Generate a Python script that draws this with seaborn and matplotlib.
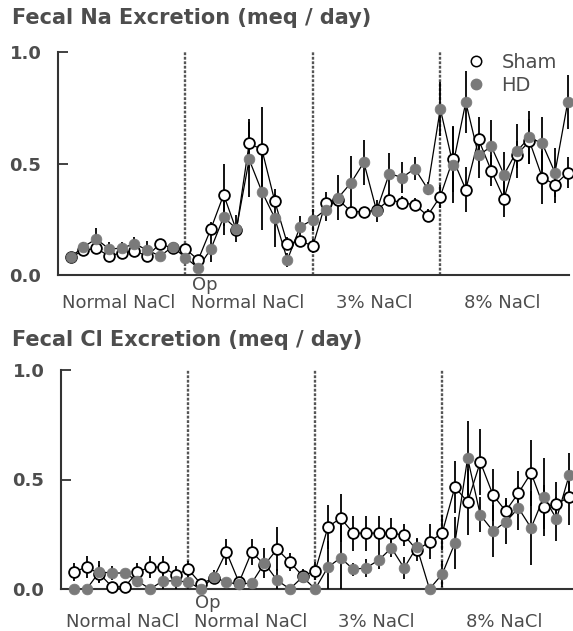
import numpy as np
import pandas as pd
import matplotlib
matplotlib.use("Agg")
import matplotlib.pyplot as plt
import matplotlib.transforms as mtransforms
from matplotlib.lines import Line2D
import seaborn as sns

sns.set_style("white")
plt.rcParams['font.family'] = ['DejaVu Sans']

days = list(range(40))
diet_changes = [9, 19, 29]
period_labels = ["Normal NaCl", "Normal NaCl", "3% NaCl", "8% NaCl"]
period_centers = [3.8, 13.9, 23.8, 33.9]
op_label = "Op"

na_sham = [0.08, 0.11, 0.12, 0.085, 0.10, 0.108, 0.085, 0.14, 0.12, 0.117,
           0.068, 0.207, 0.36, 0.20, 0.59, 0.563, 0.333, 0.14, 0.153, 0.13,
           0.324, 0.338, 0.284, 0.284, 0.29, 0.338, 0.324, 0.315, 0.266, 0.352,
           0.52, 0.383, 0.608, 0.468, 0.342, 0.54, 0.60, 0.437, 0.405, 0.459]
na_sham_err = [0.01, 0.01, 0.02, 0.02, 0.02, 0.02, 0.02, 0.02, 0.02, 0.02,
               0.02, 0.03, 0.14, 0.03, 0.11, 0.19, 0.03, 0.03, 0.02, 0.03,
               0.05, 0.03, 0.02, 0.02, 0.03, 0.03, 0.03, 0.03, 0.03, 0.05,
               0.15, 0.10, 0.10, 0.07, 0.08, 0.06, 0.10, 0.12, 0.08, 0.07]
na_hd = [0.081, 0.126, 0.162, 0.117, 0.12, 0.14, 0.112, 0.085, 0.126, 0.078,
         0.032, 0.117, 0.26, 0.207, 0.518, 0.374, 0.257, 0.068, 0.216, 0.248,
         0.293, 0.347, 0.414, 0.505, 0.288, 0.455, 0.437, 0.477, 0.387, 0.745,
         0.495, 0.775, 0.536, 0.577, 0.45, 0.555, 0.617, 0.59, 0.459, 0.775]
na_hd_err = [0.01, 0.02, 0.05, 0.03, 0.03, 0.03, 0.04, 0.02, 0.02, 0.03,
             0.02, 0.06, 0.08, 0.06, 0.17, 0.17, 0.13, 0.03, 0.05, 0.05,
             0.05, 0.10, 0.12, 0.10, 0.05, 0.09, 0.07, 0.05, 0.03, 0.12,
             0.17, 0.14, 0.10, 0.12, 0.10, 0.12, 0.12, 0.12, 0.11, 0.12]

cl_sham = [0.078, 0.10, 0.07, 0.01, 0.01, 0.078, 0.10, 0.10, 0.064, 0.09,
           0.023, 0.05, 0.17, 0.03, 0.17, 0.11, 0.182, 0.123, 0.06, 0.082,
           0.283, 0.324, 0.255, 0.255, 0.255, 0.255, 0.246, 0.178, 0.215, 0.256,
           0.466, 0.397, 0.58, 0.429, 0.356, 0.438, 0.53, 0.374, 0.388, 0.42]
cl_sham_err = [0.04, 0.05, 0.04, 0.01, 0.01, 0.04, 0.05, 0.05, 0.04, 0.04,
               0.01, 0.02, 0.06, 0.02, 0.06, 0.02, 0.10, 0.04, 0.03, 0.04,
               0.10, 0.11, 0.08, 0.08, 0.08, 0.07, 0.05, 0.05, 0.08, 0.08,
               0.12, 0.15, 0.15, 0.12, 0.06, 0.10, 0.15, 0.10, 0.10, 0.13]
cl_hd = [0.0, 0.0, 0.078, 0.073, 0.073, 0.037, 0.0, 0.037, 0.037, 0.032,
         0.0, 0.055, 0.03, 0.023, 0.027, 0.118, 0.04, 0.0, 0.055, 0.0,
         0.10, 0.142, 0.09, 0.096, 0.132, 0.187, 0.096, 0.192, 0.0, 0.068,
         0.21, 0.598, 0.338, 0.265, 0.306, 0.37, 0.279, 0.42, 0.32, 0.52]
cl_hd_err = [0.0, 0.0, 0.05, 0.03, 0.02, 0.03, 0.0, 0.04, 0.04, 0.03,
             0.0, 0.03, 0.02, 0.02, 0.02, 0.07, 0.05, 0.0, 0.02, 0.0,
             0.12, 0.15, 0.03, 0.04, 0.04, 0.04, 0.05, 0.04, 0.0, 0.06,
             0.12, 0.17, 0.08, 0.12, 0.10, 0.10, 0.17, 0.18, 0.10, 0.10]

TXT = '#4d4d4d'
HD_C = '#7a7a7a'

fig = plt.figure(figsize=(5.73, 6.31), dpi=100)


def panel(rect, xlim, title, title_y, sham, sham_err, hd, hd_err, lab_y, op_y, legend=False):
    ax = fig.add_axes(rect)
    df = pd.DataFrame({
        'day': days * 2,
        'value': list(sham) + list(hd),
        'group': ['Sham'] * len(days) + ['HD'] * len(days),
    })
    for d in diet_changes:
        ax.plot([d, d], [0, 1.0], color='#555555', lw=1.7, ls=(0, (1.2, 0.7)), zorder=1)
    sns.lineplot(data=df, x='day', y='value', hue='group', palette={'Sham': 'black', 'HD': 'black'},
                 lw=0.9, legend=False, ax=ax, zorder=2, clip_on=False)
    ax.errorbar(days, sham, yerr=sham_err, fmt='none', ecolor='black', elinewidth=1.3, capsize=0, zorder=3)
    ax.errorbar(days, hd, yerr=hd_err, fmt='none', ecolor='black', elinewidth=1.3, capsize=0, zorder=3)
    sns.scatterplot(data=df[df.group == 'Sham'], x='day', y='value', color='white', edgecolor='black',
                    linewidth=1.3, s=60, ax=ax, zorder=4, legend=False, clip_on=False)
    sns.scatterplot(data=df[df.group == 'HD'], x='day', y='value', color=HD_C, edgecolor=HD_C,
                    linewidth=0.5, s=60, ax=ax, zorder=5, legend=False, clip_on=False)
    ax.set_xlim(*xlim)
    ax.set_ylim(0, 1.0)
    ax.set_xlabel('')
    ax.set_ylabel('')
    ax.set_xticks([])
    ax.set_yticks([0, 0.5, 1.0])
    ax.set_yticklabels(['0.0', '0.5', '1.0'], fontsize=13, fontweight='bold', color=TXT)
    ax.tick_params(axis='y', direction='in', length=7, width=1.3, color='#333333', pad=12, left=True)
    for s in ['top', 'right']:
        ax.spines[s].set_visible(False)
    for s in ['left', 'bottom']:
        ax.spines[s].set_color('#333333')
        ax.spines[s].set_linewidth(1.5)
    trans = mtransforms.blended_transform_factory(ax.transData, ax.transAxes)
    for c, t in zip(period_centers, period_labels):
        ax.text(c, lab_y, t, transform=trans, ha='center', va='center', fontsize=13, color=TXT)
    ax.text(diet_changes[0] + 0.5, op_y, op_label, transform=trans, ha='left', va='center', fontsize=13, color=TXT)
    fig.text(12 / 573, 1 - title_y / 631, title, ha='left', va='center', fontsize=15,
             fontweight='bold', color=TXT)
    if legend:
        handles = [Line2D([], [], ls='none', marker='o', markersize=7.5, markerfacecolor='white',
                          markeredgecolor='black', markeredgewidth=1.1),
                   Line2D([], [], ls='none', marker='o', markersize=7.5, markerfacecolor=HD_C,
                          markeredgecolor=HD_C)]
        ax.legend(handles, ['Sham', 'HD'], loc='upper left', bbox_to_anchor=(0.765, 1.075),
                  frameon=False, handlelength=1.0, handletextpad=0.8, labelspacing=0.2,
                  prop={'size': 14}, labelcolor=TXT)
    return ax


panel([58 / 573, 1 - 275 / 631, 511 / 573, 223 / 631], (-1.0, 39.1),
      'Fecal Na Excretion (meq / day)', 18, na_sham, na_sham_err, na_hd, na_hd_err,
      -0.125, -0.045, legend=True)
panel([61 / 573, 1 - 589 / 631, 512 / 573, 219 / 631], (-1.02, 39.3),
      'Fecal Cl Excretion (meq / day)', 340, cl_sham, cl_sham_err, cl_hd, cl_hd_err,
      -0.15, -0.064)

fig.savefig('out.png', dpi=100)
